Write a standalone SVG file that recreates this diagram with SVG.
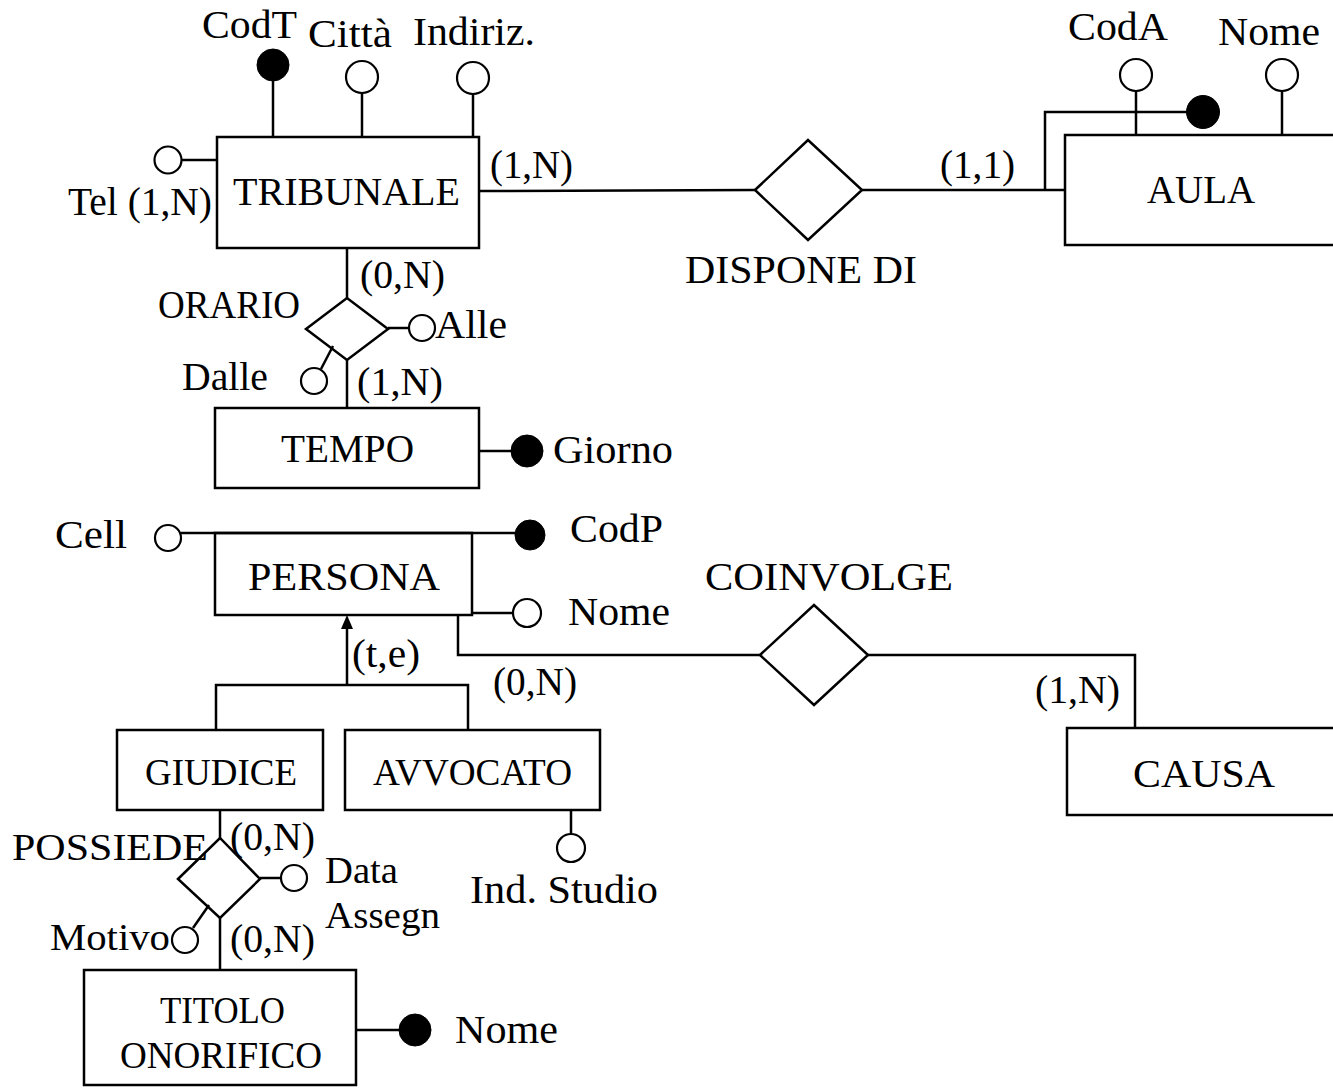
<svg xmlns="http://www.w3.org/2000/svg" width="1333" height="1088" viewBox="0 0 1333 1088">
<defs>
<style>
.e{fill:#fff;stroke:#000;stroke-width:2.5}
.r{fill:#fff;stroke:#000;stroke-width:2.5}
.l{fill:none;stroke:#000;stroke-width:2.5}
.o{fill:#fff;stroke:#000;stroke-width:2.2}
.k{fill:#000;stroke:#000;stroke-width:1}
text{font-family:"Liberation Serif","Times New Roman",serif;font-size:40px;fill:#000}
.s{font-size:37px}
</style>
<marker id="ah" viewBox="0 0 10 14" refX="5" refY="0" markerWidth="10" markerHeight="14" markerUnits="userSpaceOnUse" orient="auto-start-reverse">
<path d="M0,14 L5,0 L10,14 Z" fill="#000"/>
</marker>
</defs>
<rect width="1333" height="1088" fill="#fff"/>

<g id="connectors">
<!-- TRIBUNALE - DISPONE DI - AULA -->
<line class="l" x1="479" y1="191" x2="755" y2="190"/>
<line class="l" x1="862" y1="190" x2="1065" y2="190"/>
<polyline class="l" points="1045,190 1045,112 1190,112"/>
<!-- TRIBUNALE - ORARIO - TEMPO -->
<line class="l" x1="347" y1="248" x2="347" y2="298"/>
<line class="l" x1="347" y1="360" x2="347" y2="408"/>
<!-- PERSONA - COINVOLGE - CAUSA -->
<polyline class="l" points="458,615 458,655 760,655"/>
<polyline class="l" points="868,655 1135,655 1135,728"/>
<!-- ISA -->
<line class="l" x1="347" y1="685" x2="347" y2="628"/>
<path d="M341,629 L347,615 L353,629 Z" fill="#000"/>
<polyline class="l" points="216,730 216,685 468,685 468,730"/>
<!-- GIUDICE - POSSIEDE - TITOLO -->
<line class="l" x1="220" y1="810" x2="220" y2="838"/>
<line class="l" x1="220" y1="918" x2="220" y2="970"/>
</g>

<g id="tribunale">
<rect class="r" x="217" y="137" width="262" height="111"/>
<text x="233" y="205" textLength="227" lengthAdjust="spacingAndGlyphs">TRIBUNALE</text>
<line class="l" x1="273" y1="80" x2="273" y2="137"/>
<circle class="k" cx="273" cy="65" r="16"/>
<text x="202" y="38" textLength="95" lengthAdjust="spacingAndGlyphs">CodT</text>
<line class="l" x1="362" y1="93" x2="362" y2="137"/>
<circle class="o" cx="362" cy="77" r="16"/>
<text x="308" y="47" textLength="84" lengthAdjust="spacingAndGlyphs">Città</text>
<line class="l" x1="473" y1="94" x2="473" y2="137"/>
<circle class="o" cx="473" cy="78" r="16"/>
<text x="413" y="45" textLength="122" lengthAdjust="spacingAndGlyphs">Indiriz.</text>
<line class="l" x1="182" y1="160" x2="217" y2="160"/>
<circle class="o" cx="168" cy="160" r="13.5"/>
<text x="68" y="215" textLength="144" lengthAdjust="spacingAndGlyphs">Tel (1,N)</text>
<text x="490" y="178" textLength="83" lengthAdjust="spacingAndGlyphs">(1,N)</text>
</g>

<g id="dispone-di">
<polygon class="r" points="755,190 808,140 862,190 808,240"/>
<text x="685" y="283" textLength="232" lengthAdjust="spacingAndGlyphs">DISPONE DI</text>
<text x="940" y="178" textLength="75" lengthAdjust="spacingAndGlyphs">(1,1)</text>
</g>

<g id="aula">
<rect class="r" x="1065" y="135" width="280" height="110"/>
<text x="1147" y="203" textLength="108" lengthAdjust="spacingAndGlyphs">AULA</text>
<line class="l" x1="1136" y1="91" x2="1136" y2="135"/>
<circle class="o" cx="1136" cy="75" r="16"/>
<text x="1068" y="40" textLength="100" lengthAdjust="spacingAndGlyphs">CodA</text>
<line class="l" x1="1282" y1="91" x2="1282" y2="135"/>
<circle class="o" cx="1282" cy="75" r="16"/>
<text x="1218" y="45" textLength="102" lengthAdjust="spacingAndGlyphs">Nome</text>
<circle class="k" cx="1203" cy="112" r="16.5"/>
</g>

<g id="orario">
<polygon class="r" points="306,329 347,298 388,329 347,360"/>
<text x="158" y="318" textLength="142" lengthAdjust="spacingAndGlyphs">ORARIO</text>
<line class="l" x1="388" y1="328" x2="409" y2="328"/>
<circle class="o" cx="422" cy="328" r="13"/>
<text x="435" y="338" textLength="72" lengthAdjust="spacingAndGlyphs">Alle</text>
<line class="l" x1="333" y1="346" x2="321" y2="369"/>
<circle class="o" cx="314" cy="381" r="13"/>
<text x="182" y="390" textLength="86" lengthAdjust="spacingAndGlyphs">Dalle</text>
<text x="360" y="288" textLength="85" lengthAdjust="spacingAndGlyphs">(0,N)</text>
<text x="357" y="395" textLength="86" lengthAdjust="spacingAndGlyphs">(1,N)</text>
</g>

<g id="tempo">
<rect class="r" x="215" y="408" width="264" height="80"/>
<text x="281" y="462" textLength="133" lengthAdjust="spacingAndGlyphs">TEMPO</text>
<line class="l" x1="479" y1="451" x2="512" y2="451"/>
<circle class="k" cx="527" cy="451" r="16"/>
<text x="553" y="463" textLength="120" lengthAdjust="spacingAndGlyphs">Giorno</text>
</g>

<g id="persona">
<rect class="r" x="215" y="533" width="257" height="82"/>
<text x="248" y="590" textLength="192" lengthAdjust="spacingAndGlyphs">PERSONA</text>
<line class="l" x1="181" y1="533" x2="516" y2="533"/>
<circle class="o" cx="168" cy="538" r="13"/>
<text x="55" y="548" textLength="72" lengthAdjust="spacingAndGlyphs">Cell</text>
<circle class="k" cx="530" cy="535" r="15"/>
<text x="570" y="542" textLength="93" lengthAdjust="spacingAndGlyphs">CodP</text>
<line class="l" x1="472" y1="613" x2="513" y2="613"/>
<circle class="o" cx="527" cy="613" r="14"/>
<text x="568" y="625" textLength="102" lengthAdjust="spacingAndGlyphs">Nome</text>
<text x="352" y="667" textLength="68" lengthAdjust="spacingAndGlyphs">(t,e)</text>
<text x="493" y="695" textLength="84" lengthAdjust="spacingAndGlyphs">(0,N)</text>
</g>

<g id="coinvolge">
<polygon class="r" points="760,655 814,605 868,655 814,705"/>
<text x="705" y="590" textLength="248" lengthAdjust="spacingAndGlyphs">COINVOLGE</text>
<text x="1035" y="703" textLength="85" lengthAdjust="spacingAndGlyphs">(1,N)</text>
</g>

<g id="causa">
<rect class="r" x="1067" y="728" width="280" height="87"/>
<text x="1133" y="787" textLength="142" lengthAdjust="spacingAndGlyphs">CAUSA</text>
</g>

<g id="giudice">
<rect class="r" x="117" y="730" width="206" height="80"/>
<text class="s" x="145" y="785" textLength="152" lengthAdjust="spacingAndGlyphs">GIUDICE</text>
</g>

<g id="avvocato">
<rect class="r" x="345" y="730" width="255" height="80"/>
<text class="s" x="373" y="785" textLength="199" lengthAdjust="spacingAndGlyphs">AVVOCATO</text>
<line class="l" x1="571" y1="810" x2="571" y2="834"/>
<circle class="o" cx="571" cy="848" r="14"/>
<text x="470" y="903" textLength="188" lengthAdjust="spacingAndGlyphs">Ind. Studio</text>
</g>

<g id="possiede">
<polygon class="r" points="178,879 220,838 260,879 220,918"/>
<text class="s" x="12" y="860" textLength="196" lengthAdjust="spacingAndGlyphs">POSSIEDE</text>
<text x="230" y="850" textLength="85" lengthAdjust="spacingAndGlyphs">(0,N)</text>
<text x="230" y="952" textLength="85" lengthAdjust="spacingAndGlyphs">(0,N)</text>
<line class="l" x1="260" y1="878" x2="281" y2="878"/>
<circle class="o" cx="294" cy="878" r="13"/>
<text class="s" x="325" y="883" textLength="73" lengthAdjust="spacingAndGlyphs">Data</text>
<text class="s" x="325" y="928" textLength="115" lengthAdjust="spacingAndGlyphs">Assegn</text>
<line class="l" x1="209" y1="905" x2="193" y2="928"/>
<circle class="o" cx="185" cy="940" r="13"/>
<text class="s" x="50" y="950" textLength="120" lengthAdjust="spacingAndGlyphs">Motivo</text>
</g>

<g id="titolo-onorifico">
<rect class="r" x="84" y="970" width="272" height="115"/>
<text class="s" x="160" y="1023" textLength="125" lengthAdjust="spacingAndGlyphs">TITOLO</text>
<text class="s" x="120" y="1068" textLength="202" lengthAdjust="spacingAndGlyphs">ONORIFICO</text>
<line class="l" x1="356" y1="1030" x2="400" y2="1030"/>
<circle class="k" cx="415" cy="1030" r="16"/>
<text x="455" y="1043" textLength="103" lengthAdjust="spacingAndGlyphs">Nome</text>
</g>
</svg>
